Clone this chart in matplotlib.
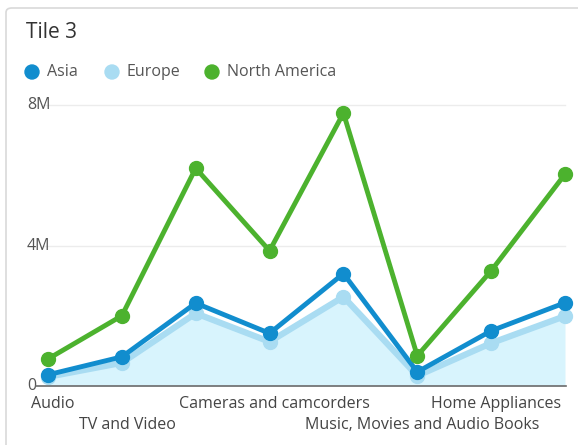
import matplotlib
matplotlib.use("Agg")
import matplotlib.pyplot as plt
from matplotlib.patches import FancyBboxPatch, Ellipse
import matplotlib.transforms as mtransforms

# ---- data ----
categories = ["Audio", "TV and Video", "", "Cameras and camcorders", "",
              "Music, Movies and Audio Books", "Home Appliances", ""]
label_row = [0, 1, 0, 0, 0, 1, 0, 0]
asia = [0.32, 0.83, 2.36, 1.50, 3.20, 0.40, 1.57, 2.37]
europe = [0.26, 0.66, 2.07, 1.26, 2.54, 0.29, 1.22, 1.99]
north_america = [0.77, 2.00, 6.20, 3.85, 7.77, 0.86, 3.28, 6.03]
y_ticks = [0, 4, 8]
y_tick_labels = ["0", "4M", "8M"]
series_names = ["Asia", "Europe", "North America"]

c_asia = "#118dce"
c_eur = "#a9dcf2"
c_fill = "#d8f4fd"
c_na = "#4cb22e"

W, H = 578, 445
plt.rcParams["font.family"] = ["Open Sans", "DejaVu Sans"]
fig = plt.figure(figsize=(W / 100, H / 100), dpi=100)

# tile border
tile = FancyBboxPatch((6 / W, -0.2), 1.2, 1 - 8 / H + 0.2,
                      boxstyle="round,pad=0,rounding_size=0.01",
                      transform=fig.transFigure, facecolor="white", edgecolor="#d9d9d9",
                      linewidth=1.2, zorder=-5)
fig.patches.append(tile)

left, right = 48, 565
bottom, top = 386, 105
ax = fig.add_axes([left / W, (H - bottom) / H, (right - left) / W, (bottom - top) / H])
ax.set_zorder(2)
ax.set_facecolor("none")
x = list(range(len(categories)))
ax.set_xlim(0, len(categories) - 1)
ax.set_ylim(0, 8)
for s in ax.spines.values():
    s.set_visible(False)
ax.set_xticks([])
ax.set_yticks([])

# gridlines
for t in y_ticks[1:]:
    ax.plot([-0.01, 1], [t, t], transform=ax.get_yaxis_transform(), color="#ececec",
            lw=1, zorder=0, clip_on=False)
# baseline
base_tr = mtransforms.blended_transform_factory(fig.transFigure, ax.transData)
ax.plot([36 / W, 566 / W], [0, 0], transform=base_tr, color="#6b6b6b", lw=1.2,
        zorder=5, clip_on=False)

# y tick labels (left aligned)
for t, lab in zip(y_ticks, y_tick_labels):
    ax.text(27 / W, t, lab, transform=base_tr, ha="left", va="center",
            fontsize=11.5, color="#555555")

# series
ax.fill_between(x, 0, europe, color=c_fill, lw=0, zorder=1)
ax.plot(x, europe, color=c_eur, lw=4.5, marker="o", ms=10, zorder=2, clip_on=False,
        solid_joinstyle="round")
ax.plot(x, asia, color=c_asia, lw=3.5, marker="o", ms=10, zorder=3, clip_on=False,
        solid_joinstyle="round")
ax.plot(x, north_america, color=c_na, lw=3.5, marker="o", ms=10, zorder=4, clip_on=False,
        solid_joinstyle="round")

# x labels (staggered)
xtr = mtransforms.blended_transform_factory(ax.transData, fig.transFigure)
row_y = [(H - 404) / H, (H - 425) / H]
for xi, lab, r in zip(x, categories, label_row):
    if lab:
        ax.text(xi + 0.07, row_y[r], lab, transform=xtr, ha="center", va="center",
                fontsize=11.5, color="#444444")

# title
fig.text(26 / W, (H - 32) / H, "Tile 3", ha="left", va="center", fontsize=15, color="#333333")

# legend
leg_colors = [c_asia, c_eur, c_na]
leg_x = [32, 112, 212]
for nm, c, lx in zip(series_names, leg_colors, leg_x):
    fig.patches.append(Ellipse((lx / W, (H - 72) / H), 14 / W, 14 / H,
                               transform=fig.transFigure, color=c))
    fig.text((lx + 15) / W, (H - 72) / H, nm, ha="left", va="center", fontsize=11.5,
             color="#555555")

fig.savefig("out.png", dpi=100)
